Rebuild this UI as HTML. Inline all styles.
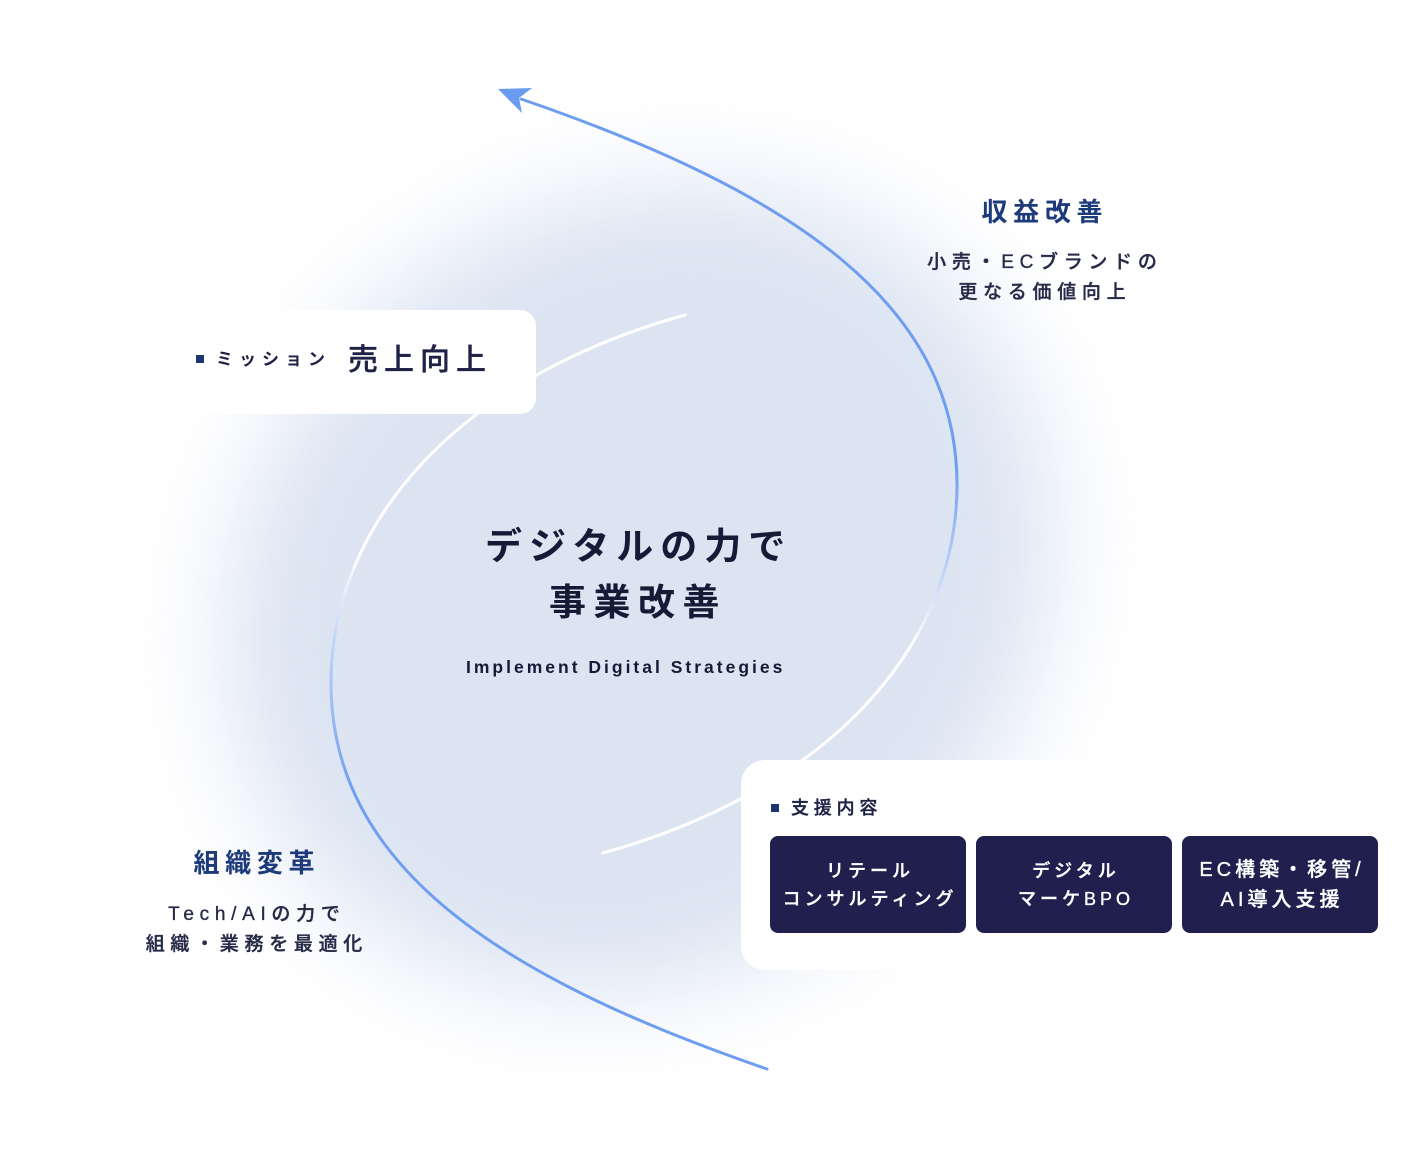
<!DOCTYPE html>
<html><head><meta charset="utf-8">
<style>
html{margin:0;padding:0;width:1402px;height:1154px;overflow:hidden;}
body{margin:0;padding:0;width:1402px;height:1154px;position:relative;overflow:hidden;background:#fff;font-family:"Liberation Sans","Noto Sans CJK JP",sans-serif;}
.blob{position:absolute;left:205px;top:205px;width:870px;height:770px;border-radius:50%;background:#dce4f2;filter:blur(50px);transform:rotate(-40deg);}
svg{position:absolute;left:0;top:0;}
.a{position:absolute;white-space:nowrap;}
.box{position:absolute;background:#fff;}
.sq{position:absolute;width:8px;height:8px;background:#1b3575;}
.ctr{position:absolute;box-sizing:border-box;width:400px;text-align:center;white-space:nowrap;}
.med{-webkit-text-stroke:0.35px currentColor;}
.btn{position:absolute;top:836px;width:196px;height:97px;border-radius:8px;background:#211f4e;color:#fff;display:flex;align-items:center;justify-content:center;text-align:center;font-size:18px;font-weight:500;letter-spacing:4px;line-height:28px;box-sizing:border-box;padding-left:4px;-webkit-text-stroke:0.35px #fff;}
</style></head>
<body>
<div class="blob"></div>

<svg width="1402" height="1154" viewBox="0 0 1402 1154">
  <defs>
    <linearGradient id="gl" gradientUnits="userSpaceOnUse" x1="0" y1="555" x2="0" y2="790">
      <stop offset="0" stop-color="#ffffff"/>
      <stop offset="0.35" stop-color="#c3d6f7"/>
      <stop offset="1" stop-color="#6f9ef0"/>
    </linearGradient>
    <linearGradient id="gr" gradientUnits="userSpaceOnUse" x1="0" y1="470" x2="0" y2="645">
      <stop offset="0" stop-color="#6f9ef0"/>
      <stop offset="0.5" stop-color="#b3cbf5"/>
      <stop offset="1" stop-color="#ffffff"/>
    </linearGradient>
  </defs>
  <path d="M767,1069 C493,975 331,863 331,683 C331,523 458,378 685,315" fill="none" stroke="url(#gl)" stroke-width="3" stroke-linecap="round"/>
  <path d="M521,99 C795,193 957,305 957,485 C957,645 830,790 603,853" fill="none" stroke="url(#gr)" stroke-width="3" stroke-linecap="round"/>
  <polygon points="498,89 532,88 519,98 522,113" fill="#6b9bf0"/>
</svg>

<!-- mission box -->
<div class="box" style="left:150px;top:310px;width:386px;height:104px;border-radius:16px;"></div>
<div class="sq" style="left:196px;top:355px;"></div>
<div class="a" style="left:216px;top:350px;font-size:17px;line-height:20px;font-weight:700;letter-spacing:6px;color:#1f2246;">ミッション</div>
<div class="a med" style="left:348px;top:345px;font-size:30px;line-height:32px;font-weight:500;letter-spacing:6px;color:#1f2246;">売上向上</div>

<!-- center -->
<div class="a" style="left:485px;top:528px;font-size:37px;line-height:38px;font-weight:700;letter-spacing:7px;color:#131b36;">デジタルの力で</div>
<div class="a" style="left:549px;top:584px;font-size:37px;line-height:38px;font-weight:700;letter-spacing:7.5px;color:#131b36;">事業改善</div>
<div class="a" style="left:466px;top:659px;font-size:17.5px;line-height:17px;font-weight:700;letter-spacing:3px;color:#131b36;">Implement Digital Strategies</div>

<!-- right text -->
<div class="ctr" style="left:842px;top:198px;font-size:26px;line-height:28px;font-weight:700;letter-spacing:5.7px;padding-left:5.7px;color:#1d3a7b;">収益改善</div>
<div class="ctr med" style="left:842px;top:248px;font-size:19px;line-height:30px;font-weight:500;letter-spacing:5.7px;padding-left:5.7px;color:#272b48;">小売・ECブランドの<br>更なる価値向上</div>

<!-- left text -->
<div class="ctr" style="left:54px;top:849px;font-size:26px;line-height:28px;font-weight:700;letter-spacing:5.7px;padding-left:5.7px;color:#1d3a7b;">組織変革</div>
<div class="ctr med" style="left:54px;top:900px;font-size:19px;line-height:30px;font-weight:500;letter-spacing:5.7px;padding-left:5.7px;color:#272b48;">Tech/AIの力で<br>組織・業務を最適化</div>

<!-- support box -->
<div class="box" style="left:741px;top:760px;width:720px;height:210px;border-radius:24px;"></div>
<div class="sq" style="left:771px;top:804px;"></div>
<div class="a med" style="left:791px;top:798px;font-size:18px;line-height:20px;font-weight:500;letter-spacing:4.8px;color:#1f2246;">支援内容</div>

<div class="btn" style="left:770px;">リテール<br>コンサルティング</div>
<div class="btn" style="left:976px;">デジタル<br>マーケBPO</div>
<div class="btn" style="left:1182px;font-size:20px;line-height:30px;">EC構築・移管/<br>AI導入支援</div>

</body></html>
